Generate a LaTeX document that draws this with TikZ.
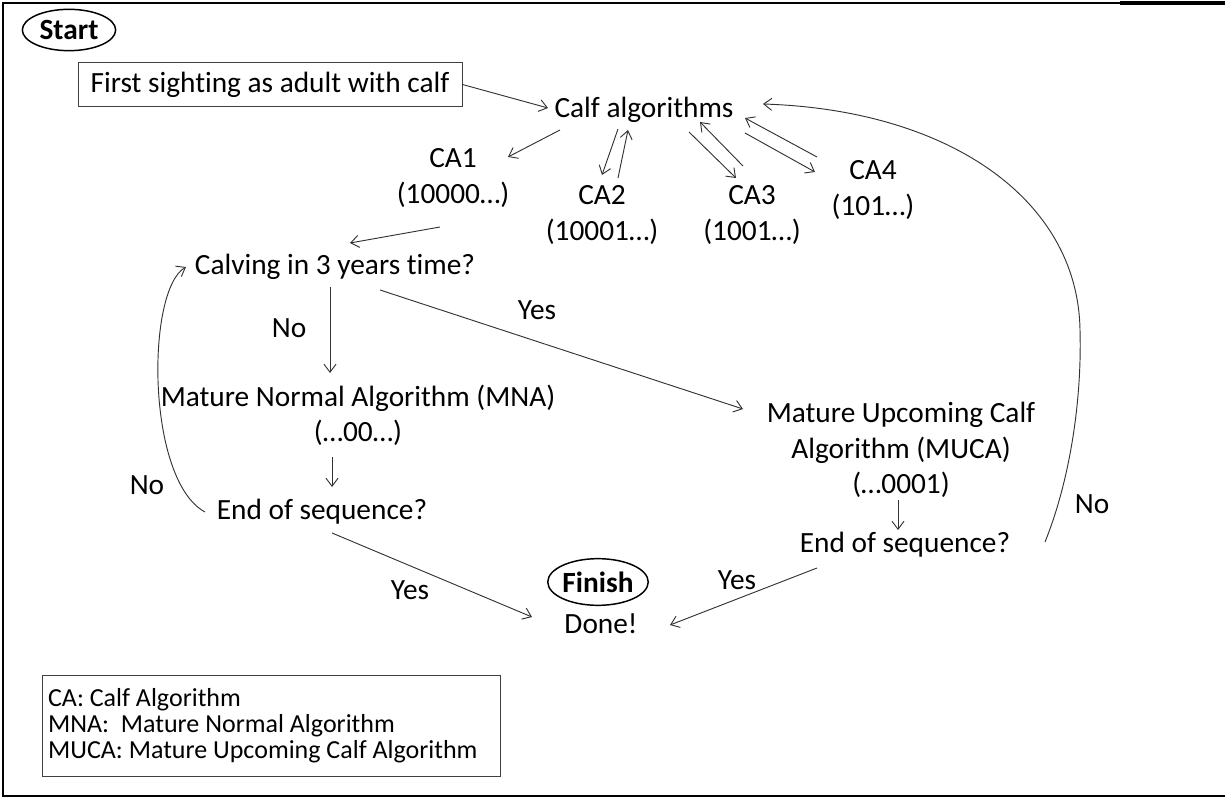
\documentclass[tikz,border=0pt]{standalone}
\usepackage{fontspec}
\setmainfont{Carlito}[Ligatures={NoCommon}]
\usetikzlibrary{shapes.geometric,arrows.meta}
\begin{document}
\begin{tikzpicture}[x=0.75pt,y=-0.75pt,font=\fontsize{22}{26.5}\selectfont]
    \tikzstyle{term}=[ellipse,draw,line width=1.1pt,inner sep=0pt,minimum width=70pt,minimum height=31pt]
    \tikzstyle{stepbox}=[draw=black!75,line width=0.7pt,inner sep=0pt,minimum width=288pt,minimum height=33pt]
    \tikzstyle{txt}=[align=center,inner sep=2pt]
    \tikzstyle{arr}=[draw=black!80,line width=0.7pt,-{Straight Barb[length=6pt,width=9pt]}]
    \useasboundingbox (0,0) rectangle (1225,798);
    \draw[line width=1.3pt] (1225,796) -- (3,796) -- (3,3) -- (1225,3);
    \draw[line width=2.4pt] (1120,3) -- (1225,3);
    % nodes
    \node[term] (start) at (69,30) {\bfseries Start};
    \node[stepbox] (first) at (270,84.5) {First sighting as adult with calf};
    \node[txt] (calf) at (644,110) {Calf algorithms};
    \node[txt] (ca1) at (453,178) {CA1\\(10000…)};
    \node[txt] (ca2) at (602,215) {CA2\\(10001…)};
    \node[txt] (ca3) at (752,215) {CA3\\(1001…)};
    \node[txt] (ca4) at (873,190) {CA4\\(101…)};
    \node[txt] (calving) at (335,267) {Calving in 3 years time?};
    \node[txt] (mna) at (358,415) {Mature Normal Algorithm (MNA)\\(…00…)};
    \node[txt] (muca) at (901,450) {Mature Upcoming Calf\\Algorithm (MUCA)\\(…0001)};
    \node[txt] (endl) at (322,512) {End of sequence?};
    \node[txt] (endr) at (905,545) {End of sequence?};
    \node[term,minimum width=71pt,minimum height=35pt] (finish) at (598,582) {\bfseries Finish};
    \node[txt] (done) at (601,624) {Done!};
    % labels
    \node (no1) at (289,328) {No};
    \node (yes1) at (537,310) {Yes};
    \node (no2) at (147,485) {No};
    \node (no3) at (1092,504) {No};
    \node (yes2) at (410,590) {Yes};
    \node (yes3) at (737,580) {Yes};
    \node[draw=black!75,line width=0.7pt,anchor=north west,align=flush left,inner xsep=4pt,
      minimum width=343.5pt,minimum height=76pt,text width=335pt,
      font=\fontsize{19.5}{19.5}\selectfont] (key) at (42,675)
      {CA: Calf Algorithm\\MNA:\ \ Mature Normal Algorithm\\MUCA: Mature Upcoming Calf Algorithm};
    % connectors
    \coordinate (bend) at (1080,330);
    \draw[arr] (first.east) -- ([shift={(-96,-2)}]calf.center);
    \draw[arr] ([shift={(-84,20)}]calf.center) -- ([shift={(55,-21)}]ca1.center);
    \draw[arr] ([shift={(-26,19)}]calf.center) -- ([shift={(0,-40)}]ca2.center);
    \draw[arr] ([shift={(16,-37)}]ca2.center) -- ([shift={(-16,20)}]calf.center);
    \draw[arr] ([shift={(45,22)}]calf.center) -- ([shift={(-16,-37)}]ca3.center);
    \draw[arr] ([shift={(-9,-49)}]ca3.center) -- ([shift={(56,12)}]calf.center);
    \draw[arr] ([shift={(101,23)}]calf.center) -- ([shift={(-58,-18)}]ca4.center);
    \draw[arr] ([shift={(-56,-33)}]ca4.center) -- ([shift={(101,8)}]calf.center);
    \draw[arr] ([shift={(-13,49)}]ca1.center) -- ([shift={(15,-24)}]calving.center);
    \draw[arr] ([shift={(-5,20)}]calving.center) -- ([shift={(-28,-42)}]mna.center);
    \draw[arr] ([shift={(45,23)}]calving.center) -- ([shift={(-158,-41)}]muca.center);
    \draw[arr] ([shift={(-26,42)}]mna.center) -- ([shift={(10,-25)}]endl.center);
    \draw[arr] ([shift={(10,21)}]endl.center) -- ([shift={(-69,-7)}]done.center);
    \draw[arr] ([shift={(-3,50)}]muca.center) -- ([shift={(-7,-15)}]endr.center);
    \draw[arr] ([shift={(-88,23)}]endr.center) -- ([shift={(69,1)}]done.center);
    \draw[arr] ([shift={(-117,0)}]endl.center) .. controls +(-59,-32) and +(-40,23) .. ([shift={(-149,0)}]calving.center);
    \draw[arr] ([shift={(140,-3)}]endr.center) .. controls +(25,-62) and +(2,70) .. (bend)
      .. controls +(-2,-130) and +(187,6) .. ([shift={(119,-6)}]calf.center);
\end{tikzpicture}
\end{document}
